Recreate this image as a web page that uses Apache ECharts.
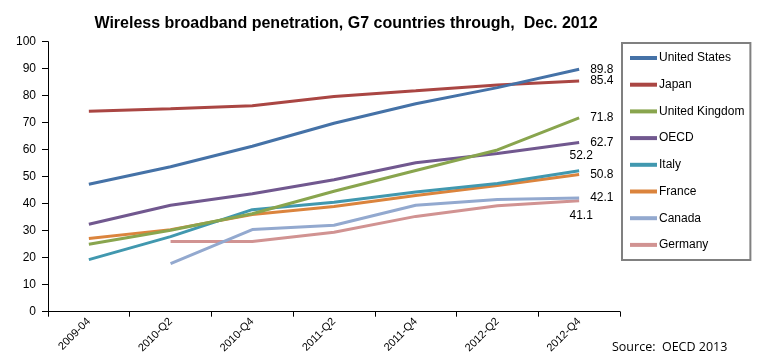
<!DOCTYPE html>
<html>
<head>
<meta charset="utf-8">
<script src="https://cdn.jsdelivr.net/npm/echarts@6/dist/echarts.min.js"></script>
<style>html,body{margin:0;padding:0;background:#fff}#c{width:758px;height:364px}</style>
</head>
<body>
<div id="c"></div>
<script>
var categories = ['2009-04','2010-Q2','2010-Q4','2011-Q2','2011-Q4','2012-Q2','2012-Q4'];
var yTicks = [0,10,20,30,40,50,60,70,80,90,100];
var unitedStates = [47.2, 53.7, 61.3, 69.8, 77.0, 83.0, 89.8];
var japan = [74.2, 75.2, 76.3, 79.7, 81.8, 84.0, 85.4];
var unitedKingdom = [25.0, 30.2, 36.3, 44.6, 52.3, 59.9, 71.8];
var oecd = [32.4, 39.4, 43.7, 48.9, 55.2, 58.6, 62.7];
var italy = [19.3, 27.8, 37.8, 40.5, 44.3, 47.5, 52.2];
var france = [27.1, 30.4, 36.0, 39.0, 43.0, 46.7, 50.8];
var canada = [null, 17.8, 30.4, 32.0, 39.4, 41.6, 42.1];
var germany = [null, 26.0, 26.0, 29.4, 35.3, 39.2, 41.1];

var seriesNames = ['United States','Japan','United Kingdom','OECD','Italy','France','Canada','Germany'];
var seriesData = [unitedStates, japan, unitedKingdom, oecd, italy, france, canada, germany];
var colors = ['#4572A7','#AA4643','#89A54E','#71588F','#4198AF','#DB843D','#93A9CF','#D19392'];
var labelPos = ['right','right','right','right','top','right','right','bottom'];
var FONT = "'Liberation Sans', Arial, sans-serif";

var chart = echarts.init(document.getElementById('c'));
var series = seriesNames.map(function (name, i) {
  var arr = seriesData[i];
  var last = arr.length - 1;
  var pos = labelPos[i];
  return {
    name: name,
    type: 'line',
    symbol: 'circle',
    symbolSize: 0,
    showSymbol: true,
    z: 10 - i,
    lineStyle: { width: 3, color: colors[i] },
    itemStyle: { color: colors[i] },
    emphasis: { disabled: true },
    connectNulls: false,
    data: arr.map(function (v, k) {
      if (k !== last) return v;
      return {
        value: v,
        label: {
          show: true,
          position: pos,
          distance: pos === 'right' ? 11 : 9,
          offset: pos === 'right' ? [0, 0] : [2, 0],
          color: '#000',
          fontFamily: FONT,
          fontSize: 12,
          formatter: function (p) { return Number(p.value).toFixed(1); }
        }
      };
    })
  };
});

chart.setOption({
  animation: false,
  backgroundColor: '#fff',
  color: colors,
  title: {
    text: 'Wireless broadband penetration, G7 countries through,  Dec. 2012',
    left: 341,
    textAlign: 'center',
    top: 11,
    textStyle: { fontFamily: FONT, fontSize: 16, fontWeight: 'bold', color: '#000' }
  },
  graphic: [{
    type: 'text',
    left: 612,
    top: 341,
    style: { text: 'Source:  OECD 2013', font: "12.5px 'Open Sans', 'Liberation Sans', sans-serif", fill: '#000' }
  }],
  legend: {
    orient: 'vertical',
    left: 622,
    top: 43,
    padding: [8, 6, 8, 8],
    borderColor: '#808080',
    borderWidth: 2,
    itemWidth: 27,
    itemHeight: 4,
    itemGap: 12.7,
    icon: 'rect',
    textStyle: { fontFamily: FONT, fontSize: 12, color: '#000', padding: [0,0,0,-3], lineHeight: 14 },
    data: seriesNames
  },
  grid: { left: 48, right: 138, top: 41.7, bottom: 52.3, containLabel: false },
  xAxis: {
    type: 'category',
    data: categories,
    boundaryGap: true,
    axisLine: { lineStyle: { color: '#000', width: 1 } },
    axisTick: { show: true, alignWithLabel: false, length: 5, lineStyle: { color: '#000' } },
    axisLabel: { rotate: 45, margin: 8, fontFamily: FONT, fontSize: 11, color: '#000' },
    splitLine: { show: false }
  },
  yAxis: {
    type: 'value',
    min: yTicks[0],
    max: yTicks[yTicks.length - 1],
    interval: yTicks[1] - yTicks[0],
    axisLine: { show: true, lineStyle: { color: '#000', width: 1 } },
    axisTick: { show: true, length: 6, lineStyle: { color: '#000' } },
    axisLabel: { margin: 12, fontFamily: FONT, fontSize: 12, color: '#000' },
    splitLine: { show: false }
  },
  series: series
});
</script>
</body>
</html>
